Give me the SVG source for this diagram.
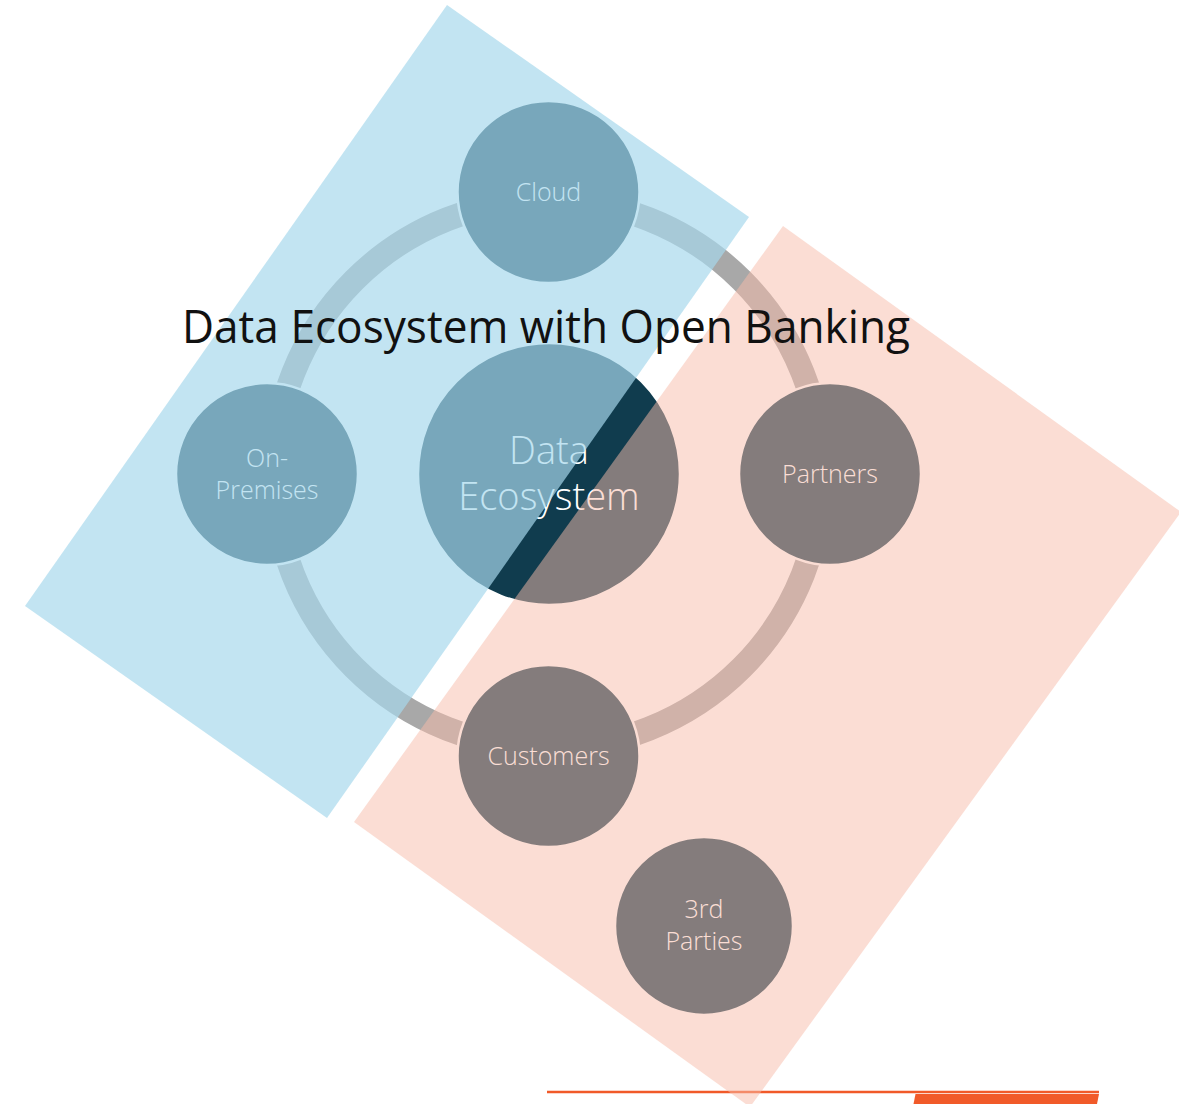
<svg xmlns="http://www.w3.org/2000/svg" width="1179" height="1104" viewBox="0 0 1179 1104">
  <style>
    .node { fill: #103C4E; stroke: #FFFFFF; stroke-width: 2.5; }
    .label { fill: #FFFFFF; font-family: "Open Sans", "Noto Sans", "Liberation Sans", sans-serif; font-weight: 300; text-anchor: middle; }
    .small { font-size: 25px; }
    .big { font-size: 38px; }
    .ring { fill: none; stroke: #A8A8A8; stroke-width: 24; }
    .accent { fill: #F15A29; }
    .band-blue { fill: #A7D8EC; fill-opacity: 0.69; }
    .band-salmon { fill: #F7BBA9; fill-opacity: 0.5; }
    .title { fill: #111111; font-family: "Open Sans", "Noto Sans", "Liberation Sans", sans-serif; font-size: 45px; text-anchor: middle; }
  </style>

  <rect width="1179" height="1104" fill="#FFFFFF"/>

  <!-- footer rule and tab -->
  <g id="footer">
    <line x1="547" y1="1092" x2="1099" y2="1092" stroke="#F15A29" stroke-width="2.5"/>
    <polygon class="accent" points="915.5,1094 1099,1094 1097,1104 913.5,1104"/>
  </g>

  <!-- cycle ring linking the outer nodes -->
  <g id="connectors">
    <circle class="ring" cx="548" cy="474" r="274"/>
  </g>

  <g id="node-cloud">
    <circle class="node" cx="548.5" cy="192" r="91"/>
    <text class="label small" x="548.5" y="201">Cloud</text>
  </g>

  <g id="node-on-premises">
    <circle class="node" cx="267" cy="474" r="91"/>
    <text class="label small" x="267" y="467">On-</text>
    <text class="label small" x="267" y="499">Premises</text>
  </g>

  <g id="node-partners">
    <circle class="node" cx="830" cy="474" r="91"/>
    <text class="label small" x="830" y="483">Partners</text>
  </g>

  <g id="node-customers">
    <circle class="node" cx="548.5" cy="756" r="91"/>
    <text class="label small" x="548.5" y="765">Customers</text>
  </g>

  <g id="node-third-parties">
    <circle class="node" cx="704" cy="926" r="89"/>
    <text class="label small" x="704" y="918">3rd</text>
    <text class="label small" x="704" y="950">Parties</text>
  </g>

  <g id="node-data-ecosystem">
    <circle class="node" cx="549" cy="474" r="131"/>
    <text class="label big" x="549" y="464">Data</text>
    <text class="label big" x="549" y="510">Ecosystem</text>
  </g>

  <!-- tinted bands laid over the cycle -->
  <g id="bands">
    <polygon class="band-blue" points="447,5 749,217 327,818 25,606"/>
    <polygon class="band-salmon" points="783,226 1181,512 750,1107 354,822"/>
  </g>

  <g id="title">
    <text class="title" x="546" y="343" textLength="728" lengthAdjust="spacingAndGlyphs">Data Ecosystem with Open Banking</text>
  </g>
</svg>
